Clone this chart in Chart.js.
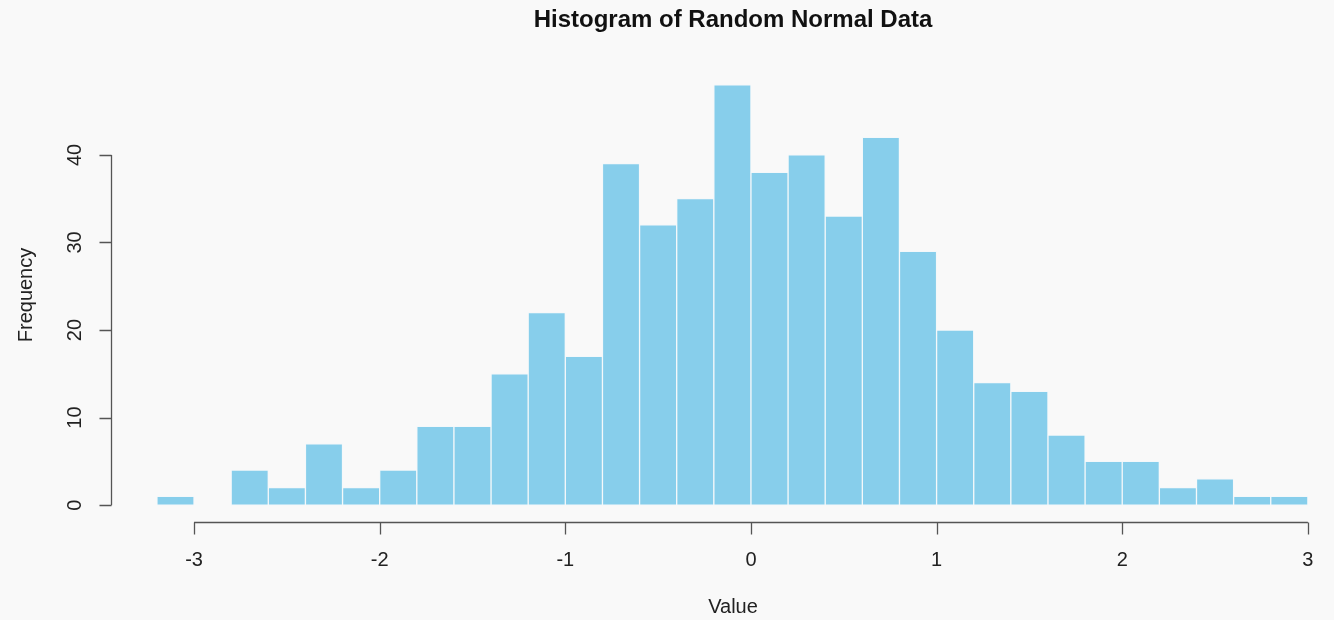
<!DOCTYPE html>
<html>
<head>
<meta charset="utf-8">
<script src="https://cdn.jsdelivr.net/npm/chart.js@4"></script>
<style>
  html, body { margin: 0; padding: 0; background: #f9f9f9; }
  #wrap { width: 1334px; height: 620px; }
</style>
</head>
<body>
<div id="wrap"><canvas id="histChart"></canvas></div>
<script>
// histogram bins: left edges, width 0.2
const binStarts = [-3.2,-3.0,-2.8,-2.6,-2.4,-2.2,-2.0,-1.8,-1.6,-1.4,-1.2,-1.0,-0.8,-0.6,-0.4,-0.2,
                   0.0,0.2,0.4,0.6,0.8,1.0,1.2,1.4,1.6,1.8,2.0,2.2,2.4,2.6,2.8];
const counts = [1,0,4,2,7,2,4,9,9,15,22,17,39,32,35,48,38,40,33,42,29,20,14,13,8,5,5,2,3,1,1];
const binWidth = 0.2;
const xTicks = [-3,-2,-1,0,1,2,3];
const yTicks = [0,10,20,30,40];

const titleText = "Histogram of Random Normal Data";
const xLabel = "Value";
const yLabel = "Frequency";

const points = binStarts.map((s, i) => ({ x: +(s + binWidth / 2).toFixed(2), y: counts[i] }));

// R-style axes, title and labels drawn from the chart's scales
const rAxes = {
  id: "rAxes",
  afterDraw(chart) {
    const c = chart.ctx;
    const xs = chart.scales.x, ys = chart.scales.y, area = chart.chartArea;
    c.save();
    c.strokeStyle = "#555";
    c.fillStyle = "#222";
    c.lineWidth = 1.3;

    // x axis
    const xa = Math.round(area.bottom) + 0.5;
    c.beginPath();
    c.moveTo(xs.getPixelForValue(xTicks[0]), xa);
    c.lineTo(xs.getPixelForValue(xTicks[xTicks.length - 1]), xa);
    xTicks.forEach(t => {
      const px = Math.round(xs.getPixelForValue(t)) + 0.5;
      c.moveTo(px, xa);
      c.lineTo(px, xa + 12);
    });
    c.stroke();
    c.font = "20px 'Liberation Sans', Arial, sans-serif";
    c.textAlign = "center";
    c.textBaseline = "middle";
    xTicks.forEach(t => c.fillText(String(t), xs.getPixelForValue(t), 560));

    // y axis
    const ya = Math.round(area.left) + 0.5;
    c.beginPath();
    c.moveTo(ya, ys.getPixelForValue(yTicks[0]));
    c.lineTo(ya, ys.getPixelForValue(yTicks[yTicks.length - 1]));
    yTicks.forEach(t => {
      const py = Math.round(ys.getPixelForValue(t)) + 0.5;
      c.moveTo(ya, py);
      c.lineTo(ya - 12, py);
    });
    c.stroke();
    yTicks.forEach(t => {
      c.save();
      c.translate(75, ys.getPixelForValue(t));
      c.rotate(-Math.PI / 2);
      c.fillText(String(t), 0, 0);
      c.restore();
    });

    // axis titles
    c.fillText(xLabel, 733, 607);
    c.save();
    c.translate(26, (area.top + area.bottom) / 2);
    c.rotate(-Math.PI / 2);
    c.fillText(yLabel, 0, 0);
    c.restore();

    // main title
    c.font = "bold 24px 'Liberation Sans', Arial, sans-serif";
    c.fillStyle = "#111";
    c.fillText(titleText, 733, 20);
    c.restore();
  }
};

new Chart(document.getElementById("histChart"), {
  type: "bar",
  data: {
    datasets: [{
      label: "Frequency",
      data: points,
      backgroundColor: "#87CEEB",
      borderColor: "#f4f8fa",
      borderWidth: 1,
      borderSkipped: false,
      barPercentage: 1.0,
      categoryPercentage: 1.0
    }]
  },
  options: {
    responsive: true,
    maintainAspectRatio: false,
    animation: false,
    layout: { padding: { left: 110.5, right: 2, top: 68, bottom: 98 } },
    scales: {
      x: { type: "linear", offset: false, min: -3.45, max: 3.13, display: false },
      y: { min: -1.92, max: 49.92, display: false }
    },
    plugins: {
      legend: { display: false },
      tooltip: { enabled: false }
    }
  },
  plugins: [rAxes]
});
</script>
</body>
</html>
